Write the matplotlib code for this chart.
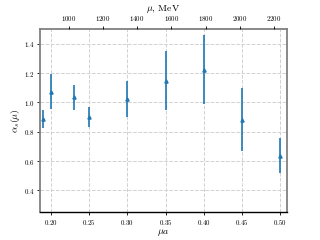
import numpy as np
import matplotlib
matplotlib.use('Agg')
import matplotlib.pyplot as plt

plt.rcParams.update({
    'font.family': 'serif',
    'font.serif': ['cmr10', 'DejaVu Serif'],
    'mathtext.fontset': 'cm',
    'axes.formatter.use_mathtext': True,
    'font.size': 5,
})

# data
mua = np.array([0.19, 0.20, 0.23, 0.25, 0.30, 0.35, 0.40, 0.45, 0.50])
alpha_s = np.array([0.887, 1.072, 1.036, 0.900, 1.022, 1.149, 1.223, 0.882, 0.637])
alpha_err = np.array([0.06, 0.12, 0.085, 0.07, 0.125, 0.20, 0.235, 0.213, 0.12])

a_inv = 4475.0  # MeV

fig, ax = plt.subplots(figsize=(3.2, 2.4), dpi=100)
fig.subplots_adjust(left=0.125, right=0.897, bottom=0.115, top=0.879)

ax.errorbar(mua, alpha_s, yerr=alpha_err, fmt='^', color='#1f77b4',
            ms=2.3, lw=1.2, capsize=0, zorder=3)

ax.set_xlim(0.1855, 0.509)
ax.set_ylim(0.25, 1.5)
ax.set_xticks([0.20, 0.25, 0.30, 0.35, 0.40, 0.45, 0.50])
ax.set_yticks([0.4, 0.6, 0.8, 1.0, 1.2, 1.4])
ax.set_xlabel(r'$\mu a$', fontsize=7, labelpad=0)
ax.set_ylabel(r'$\alpha_s(\mu)$', fontsize=7, labelpad=1)
ax.grid(True, ls='--', color='0.82', lw=0.7)
ax.tick_params(length=2.5, width=0.6, pad=1.5, labelsize=5)

for s in ['left', 'top', 'right']:
    ax.spines[s].set_color('0.5')
    ax.spines[s].set_linewidth(1.3)
ax.spines['bottom'].set_color('black')
ax.spines['bottom'].set_linewidth(1.0)

ax2 = ax.twiny()
lo, hi = ax.get_xlim()
ax2.set_xlim(lo * a_inv, hi * a_inv)
ax2.set_xticks([1000, 1200, 1400, 1600, 1800, 2000, 2200])
ax2.set_xlabel(r'$\mu$, MeV', fontsize=7, labelpad=2.5)
ax2.tick_params(length=2.5, width=0.6, pad=1.5, labelsize=5)
for s in ax2.spines.values():
    s.set_visible(False)

fig.savefig('out.png', dpi=100)
